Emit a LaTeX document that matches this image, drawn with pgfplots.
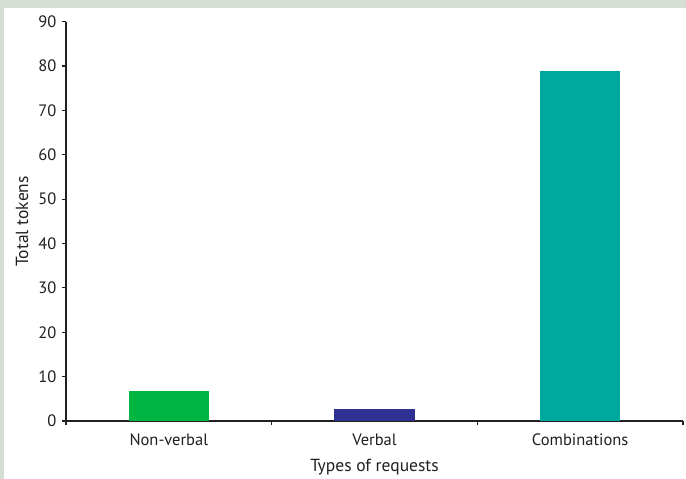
\documentclass[border=0pt]{standalone}
\usepackage{fontspec}
\setmainfont{PT Sans}
\usepackage{pgfplots}
\pgfplotsset{compat=1.18}

\definecolor{framegray}{RGB}{214,222,211}
\definecolor{cgreen}{RGB}{0,181,66}
\definecolor{cblue}{RGB}{46,49,146}
\definecolor{cteal}{RGB}{0,169,157}
\definecolor{txt}{RGB}{35,31,32}

\begin{document}
\begin{tikzpicture}[x=1pt,y=1pt]
\useasboundingbox (0,0) rectangle (686,479);
\fill[framegray] (0,0) rectangle (686,479);
\fill[white] (4,0) rectangle (686,471);
\begin{axis}[
	at={(66pt,58pt)}, anchor=south west,
	scale only axis,
	width=617pt, height=399.3pt,
	xmin=-0.5, xmax=2.5,
	ymin=0, ymax=90,
	axis x line*=bottom,
	axis y line*=left,
	axis line style={line width=1.2pt, txt},
	ytick={0,10,...,90},
	xtick={-0.5,0.5,1.5,2.5},
	xticklabels={Non-verbal,Verbal,Combinations},
	x tick label as interval,
	tick align=outside,
	major tick length=4pt,
	tick style={line width=1.2pt, txt},
	tick label style={font=\fontsize{16.5}{19}\selectfont, text=txt},
	/pgf/number format/assume math mode=true,
	yticklabel style={xshift=-2pt},
	xticklabel style={yshift=-5pt},
	xlabel={Types of requests},
	ylabel={Total tokens},
	label style={font=\fontsize{17.5}{20}\selectfont, text=txt},
	xlabel style={at={(rel axis cs:0.5,-0.1152)}, anchor=center},
	ylabel style={at={(rel axis cs:-0.0713,0.5)}, anchor=center},
	ybar, bar width=80pt, bar shift=0pt,
]
\addplot[fill=cgreen, draw=none] coordinates {(0,6.8)};
\addplot[fill=cblue, draw=none] coordinates {(1,2.8)};
\addplot[fill=cteal, draw=none] coordinates {(2,78.9)};
\end{axis}
\end{tikzpicture}
\end{document}
